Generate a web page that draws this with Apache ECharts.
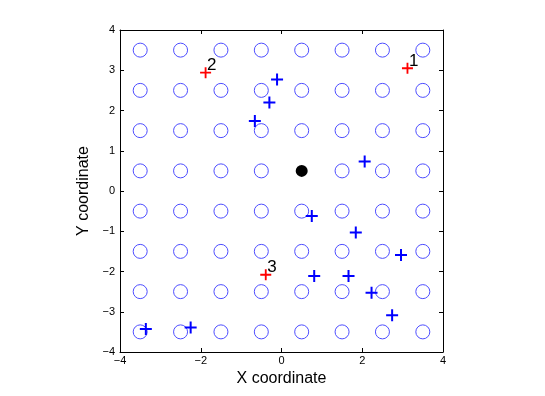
<!DOCTYPE html>
<html>
<head>
<meta charset="utf-8">
<script src="https://cdn.jsdelivr.net/npm/echarts@6/dist/echarts.min.js"></script>
<style>
  html, body { margin: 0; padding: 0; background: #fff; }
  #chart { width: 545px; height: 396px; }
</style>
</head>
<body>
<div id="chart"></div>
<script>
// grid of circle centres
var gridX = [-3.5, -2.5, -1.5, -0.5, 0.5, 1.5, 2.5, 3.5];
var gridY = [-3.5, -2.5, -1.5, -0.5, 0.5, 1.5, 2.5, 3.5];

// blue plus markers
var blueX = [-0.11, -0.30, -0.66, 2.06, 0.75, 1.84, 2.96, 0.81, 1.66, 2.23, 2.74, -3.36, -2.25];
var blueY = [2.77, 2.20, 1.74, 0.73, -0.62, -1.03, -1.59, -2.11, -2.11, -2.53, -3.09, -3.43, -3.39];

// red labelled markers
var redX = [3.12, -1.88, -0.39];
var redY = [3.05, 2.94, -2.08];
var redLabels = ['1', '2', '3'];

// black dot (sits on a grid node, which then shows no circle)
var dotX = [0.5];
var dotY = [0.5];

var circles = [];
gridY.forEach(function (y) {
    gridX.forEach(function (x) {
        if (x === dotX[0] && y === dotY[0]) return;
        circles.push([x, y]);
    });
});

var plus = 'path://M5,0 H7 V5 H12 V7 H7 V12 H5 V7 H0 V5 H5 Z';
var font = 'Liberation Sans, Arial, Helvetica, sans-serif';

function fmt(v) {
    return v < 0 ? '\u2212' + Math.abs(v) : String(v);
}

var myChart = echarts.init(document.getElementById('chart'));

var axisCommon = {
    type: 'value',
    min: -4,
    max: 4,
    splitLine: { show: false },
    axisLine: { onZero: false, lineStyle: { color: '#000', width: 1 } },
    axisTick: { inside: true, length: 4, lineStyle: { color: '#000' } }
};

var option = {
    animation: false,
    grid: { left: 120, right: 102, top: 30, bottom: 44, containLabel: false },
    xAxis: [
        Object.assign({}, axisCommon, {
            position: 'bottom',
            interval: 2,
            name: 'X coordinate',
            nameLocation: 'middle',
            nameGap: 17,
            nameTextStyle: { fontFamily: font, fontSize: 16, color: '#000' },
            axisLabel: { fontFamily: font, fontSize: 11, color: '#000', margin: 3, formatter: fmt }
        }),
        Object.assign({}, axisCommon, {
            position: 'top',
            interval: 2,
            axisLabel: { show: false }
        })
    ],
    yAxis: [
        Object.assign({}, axisCommon, {
            position: 'left',
            interval: 1,
            name: 'Y coordinate',
            nameLocation: 'middle',
            nameGap: 22,
            nameTextStyle: { fontFamily: font, fontSize: 16, color: '#000' },
            axisLabel: { fontFamily: font, fontSize: 11, color: '#000', margin: 5, formatter: fmt }
        }),
        Object.assign({}, axisCommon, {
            position: 'right',
            interval: 1,
            axisLabel: { show: false }
        })
    ],
    series: [
        {
            type: 'scatter',
            data: circles,
            symbol: 'circle',
            symbolSize: 14,
            itemStyle: { color: 'rgba(0,0,0,0)', borderColor: '#4d4dff', borderWidth: 1, opacity: 1 },
            silent: true
        },
        {
            type: 'scatter',
            data: blueX.map(function (x, i) { return [x, blueY[i]]; }),
            symbol: plus,
            symbolSize: 12,
            itemStyle: { color: '#0000ff', opacity: 1 },
            silent: true
        },
        {
            type: 'scatter',
            data: redX.map(function (x, i) { return { value: [x, redY[i]], name: redLabels[i] }; }),
            symbol: plus,
            symbolSize: 11,
            itemStyle: { color: '#ff0000', opacity: 1 },
            label: {
                show: true,
                formatter: '{b}',
                position: [7, -10],
                align: 'left',
                verticalAlign: 'top',
                fontFamily: font,
                fontSize: 17,
                color: '#000'
            },
            silent: true
        },
        {
            type: 'scatter',
            data: dotX.map(function (x, i) { return [x, dotY[i]]; }),
            symbol: 'circle',
            symbolSize: 12,
            itemStyle: { color: '#000', opacity: 1 },
            silent: true
        }
    ]
};

myChart.setOption(option);
</script>
</body>
</html>
